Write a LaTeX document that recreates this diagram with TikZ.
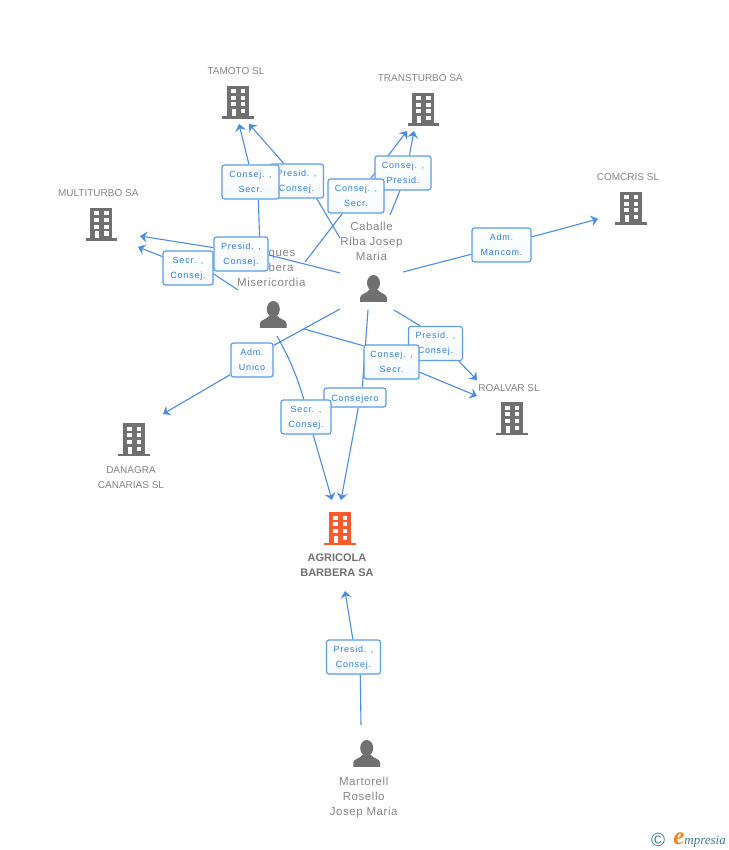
\documentclass[tikz,border=0pt]{standalone}
\usepackage{fontspec}
\setmainfont{Liberation Sans}
\newfontfamily\boxfont[LetterSpace=9]{Liberation Sans}
\newfontfamily\personfont[LetterSpace=5]{Liberation Sans}
\newfontfamily\brandfont{Liberation Serif}
\usetikzlibrary{arrows.meta,backgrounds,positioning}

\definecolor{linkblue}{HTML}{4A8CE4}
\definecolor{boxblue}{HTML}{5C9CEA}
\definecolor{textblue}{HTML}{2F7EE0}
\definecolor{namegray}{HTML}{858585}
\definecolor{iconperson}{HTML}{707070}
\definecolor{iconorange}{HTML}{FF5A2C}
\definecolor{brandteal}{HTML}{3B7A94}
\definecolor{brandorange}{HTML}{F58220}

\tikzset{
  link/.style = {draw=linkblue, line width=1.1pt},
  linkto/.style = {link, -{Stealth[length=7pt,width=11pt,inset=2.5pt]}},
  relbox/.style = {draw=boxblue, line width=1.2pt, rounded corners=2.5pt, top color=white,
    bottom color=white!94!boxblue, inner sep=0pt, minimum width=#1, minimum height=34pt,
    align=center, text=textblue, font=\boxfont\fontsize{9}{15}\selectfont,
    text height=20.6pt, text depth=0pt},
  relbox/.default = 54pt,
  company/.style = {inner sep=0pt, text=namegray, align=center, font=\fontsize{10}{15}\selectfont},
  person/.style = {inner sep=0pt, text=namegray, align=center, font=\personfont\fontsize{11.5}{15}\selectfont},
  building/.style = {inner sep=0pt, minimum width=32pt, minimum height=36pt, path picture={
    \begin{scope}[shift={(path picture bounding box.center)}]
      \fill[#1] (-11,-15.3) rectangle (11,16);
      \fill[#1] (-15.7,15) rectangle (15.7,17.7);
      \foreach \wy in {-12,-5.3,1.3} {
        \fill[white] (-7,\wy) rectangle +(4.7,4.2);
        \fill[white] (2.7,\wy) rectangle +(4.7,4.2);
      }
      \fill[white] (2.7,8) rectangle +(4.7,4.2);
      \fill[white] (-6.5,8) rectangle (-2.3,15);
    \end{scope}}},
  building/.default = iconperson,
  silhouette/.style = {inner sep=0pt, minimum width=28pt, minimum height=28pt, path picture={
    \begin{scope}[shift={(path picture bounding box.center)}]
      \fill[iconperson] (0,-5.5) ellipse (6.5 and 8);
      \fill[iconperson] (-13.4,13.4) -- (-13.4,9) .. controls (-13,5) and (-6,5) .. (-4,1)
        -- (4,1) .. controls (6,5) and (13,5) .. (13.4,9) -- (13.4,13.4) -- cycle;
    \end{scope}}},
}

\begin{document}
\begin{tikzpicture}[x=1pt, y=-1pt, node distance=8pt]
  \useasboundingbox (0,0) rectangle (728,850);

  % companies
  \node[building] (tamoto) at (238,101) {};
  \node[building] (transturbo) at (423.3,108) {};
  \node[building] (multiturbo) at (101.3,223.3) {};
  \node[building] (comcris) at (631,207) {};
  \node[building] (roalvar) at (512,417.5) {};
  \node[building] (danagra) at (134,438.5) {};
  \node[building=iconorange] (agricola) at (340,527.5) {};

  \node[company, above=of tamoto, xshift=-2pt] (tamotoname) {TAMOTO SL};
  \node[company, above=of transturbo, xshift=-3pt] (transturboname) {TRANSTURBO SA};
  \node[company, above=of multiturbo, xshift=-3pt] (multiturboname) {MULTITURBO SA};
  \node[company, above=of comcris, xshift=-3pt] (comcrisname) {COMCRIS SL};
  \node[company, above=of roalvar, xshift=-3pt] (roalvarname) {ROALVAR SL};
  \node[company, below=10pt of danagra, xshift=-3pt] (danagraname) {DANAGRA\\CANARIAS SL};
  \node[company, below=of agricola, xshift=-3pt, text=iconperson,
    font=\bfseries\fontsize{11}{15}\selectfont] (agricolaname) {AGRICOLA\\BARBERA SA};

  % people
  \node[silhouette] (caballe) at (373.5,288.5) {};
  \node[silhouette] (barbera) at (273.3,314.5) {};
  \node[silhouette] (martorell) at (366.7,753.5) {};

  \node[person, above=13pt of caballe, xshift=-2pt] (caballename) {Caballe\\Riba Josep\\Maria};
  \node[person, above=13pt of barbera, xshift=-2pt] (barberaname) {Marques\\Barbera\\Misericordia};
  \node[person, below=9pt of martorell, xshift=-3pt] (martorellname) {Martorell\\Rosello\\Josep Maria};

  % roles
  \node[relbox] (tamotopres) at (296.5,181) {Presid. ,\\Consej.};
  \node[relbox=57pt] (tamotocons) at (250.5,182) {Consej. ,\\Secr.};
  \node[relbox=56pt] (transpres) at (403,173) {Consej. ,\\Presid.};
  \node[relbox=56pt] (transcons) at (356,196) {Consej. ,\\Secr.};
  \node[relbox=50pt] (multisecr) at (188,268) {Secr. ,\\Consej.};
  \node[relbox] (multipres) at (241,254) {Presid. ,\\Consej.};
  \node[relbox=59pt] (comcrisadm) at (501.5,245) {Adm.\\Mancom.};
  \node[relbox=42pt] (danagraadm) at (252,360) {Adm.\\Unico};
  \node[relbox] (roalvarpres) at (435.5,343.5) {Presid. ,\\Consej.};
  \node[relbox=55pt] (roalvarcons) at (391.5,362) {Consej. ,\\Secr.};
  \node[relbox=62pt, minimum height=19pt, text height=7pt] (agricolacons) at (355,397.5) {Consejero};
  \node[relbox=50pt] (agricolasecr) at (306,417) {Secr. ,\\Consej.};
  \node[relbox] (agricolapres) at (353.5,657) {Presid. ,\\Consej.};

  % free ends, people side
  \coordinate (fromtamotocons) at (260,250);
  \coordinate (fromtamotopres) at (340,238);
  \coordinate (fromtranscons) at (305,262);
  \coordinate (fromtranspres) at (390,215);
  \coordinate (frommultipres) at (340,273);
  \coordinate (frommultisecr) at (238,290);
  \coordinate (fromcomcris) at (403,272);
  \coordinate (fromdanagra) at (340,309);
  \coordinate (fromroalvarpres) at (394,310);
  \coordinate (fromroalvarcons) at (304,329);
  \coordinate (fromagricolasecr) at (277,336);
  \coordinate (fromagricolacons) at (368,310);
  \coordinate (fromagricolapres) at (361,725);

  % free ends, arrow tips
  \coordinate (tiptamotocons) at (239,124);
  \coordinate (tiptamotopres) at (249,124);
  \coordinate (tiptranscons) at (407,131);
  \coordinate (tiptranspres) at (414,131);
  \coordinate (tipmultipres) at (140,236);
  \coordinate (tipmultisecr) at (138,247);
  \coordinate (tipcomcris) at (598,219);
  \coordinate (tipdanagra) at (163,414);
  \coordinate (tiproalvarpres) at (477,380);
  \coordinate (tiproalvarcons) at (477,396);
  \coordinate (tipagricolasecr) at (332,500);
  \coordinate (tipagricolacons) at (341,500);
  \coordinate (tipagricolapres) at (345,591);

  \begin{scope}[on background layer]
    \draw[link] (fromtamotocons) -- (tamotocons.294);
    \draw[linkto] (tamotocons.95) -- (tiptamotocons);
    \draw[link] (fromtamotopres) -- (tamotopres.-41);
    \draw[linkto] (tamotopres.126) -- (tiptamotopres);
    \draw[link] (fromtranscons) -- (transcons.232);
    \draw[linkto] (transcons.50) -- (tiptranscons);
    \draw[link] (fromtranspres) -- (transpres.260);
    \draw[linkto] (transpres.70) -- (tiptranspres);
    \draw[link] (frommultipres) -- (multipres.-2);
    \draw[linkto] (multipres.167) -- (tipmultipres);
    \draw[link] (frommultisecr) -- (multisecr.-13);
    \draw[linkto] (multisecr.156) -- (tipmultisecr);
    \draw[link] (fromcomcris) -- (comcrisadm.197);
    \draw[linkto] (comcrisadm.15) -- (tipcomcris);
    \draw[link] (fromdanagra) -- (danagraadm.34);
    \draw[linkto] (danagraadm.214) -- (tipdanagra);
    \draw[link] (fromroalvarpres) -- (roalvarpres.131);
    \draw[linkto] (roalvarpres.-37) -- (tiproalvarpres);
    \draw[link] (fromroalvarcons) -- (roalvarcons.150);
    \draw[linkto] (roalvarcons.-20) -- (tiproalvarcons);
    \draw[link] (fromagricolasecr) to[bend left=6] (agricolasecr.97);
    \draw[linkto] (agricolasecr.-68) -- (tipagricolasecr);
    \draw[link] (fromagricolacons) -- (agricolacons.54);
    \draw[linkto] (agricolacons.-72) -- (tipagricolacons);
    \draw[link] (fromagricolapres) -- (agricolapres.-69);
    \draw[linkto] (agricolapres.92) -- (tipagricolapres);
  \end{scope}

  % brand
  \node[inner sep=0pt, anchor=base east, font=\brandfont\itshape\fontsize{13}{13}\selectfont, text=brandteal] (brand)
    at (726,844) {\textcolor{brandorange}{\fontsize{25}{25}\selectfont\bfseries e}mpresia};
  \node[inner sep=0pt, anchor=base, text=brandteal, font=\fontsize{19}{19}\selectfont] (copyright)
    at (658,846) {©};
\end{tikzpicture}
\end{document}
